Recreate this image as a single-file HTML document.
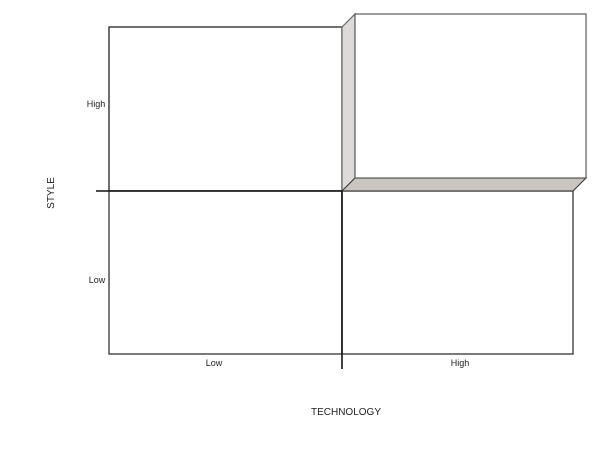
<!DOCTYPE html>
<html><head><meta charset="utf-8"><style>
html,body{margin:0;padding:0;background:#fff;width:600px;height:464px;overflow:hidden}
svg{display:block}
text{font-family:"Liberation Sans",sans-serif;fill:#222}
</style></head><body>
<svg width="600" height="464" viewBox="0 0 600 464">
<rect x="109" y="27" width="233" height="164" fill="#fff" stroke="#222" stroke-width="1.3"/>
<rect x="109" y="191" width="233" height="163" fill="#fff" stroke="#333" stroke-width="1.3"/>
<rect x="342" y="191" width="231" height="163" fill="#fff" stroke="#333" stroke-width="1.3"/>
<polygon points="342,27 355,14 355,178 342,191" fill="#dedad9" stroke="#666" stroke-width="1.2"/>
<polygon points="342,191 355,178 586,178 573,191" fill="#c9c5c3" stroke="#444" stroke-width="1.2"/>
<rect x="355" y="14" width="231" height="164" fill="#fff" stroke="#666" stroke-width="1.3"/>
<line x1="96" y1="191" x2="342" y2="191" stroke="#111" stroke-width="1.6"/>
<line x1="342" y1="191" x2="342" y2="369" stroke="#111" stroke-width="1.6"/>
<text x="96" y="107" font-size="9" text-anchor="middle">High</text>
<text x="97" y="283" font-size="9" text-anchor="middle">Low</text>
<text x="214" y="366" font-size="9" text-anchor="middle">Low</text>
<text x="460" y="366" font-size="9" text-anchor="middle">High</text>
<text x="346" y="415" font-size="10" text-anchor="middle">TECHNOLOGY</text>
<text x="0" y="0" font-size="10" text-anchor="middle" transform="translate(54,193) rotate(-90)">STYLE</text>
</svg>
</body></html>
